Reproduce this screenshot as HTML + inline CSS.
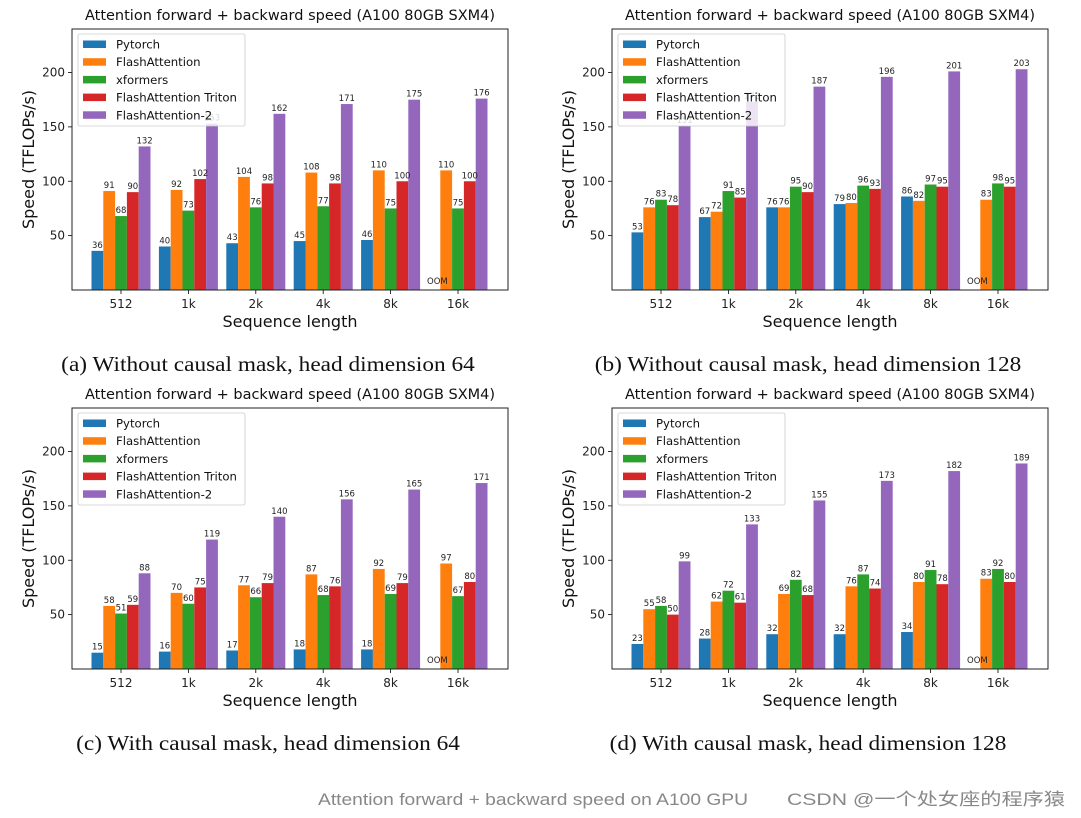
<!DOCTYPE html>
<html><head><meta charset="utf-8"><style>
body{margin:0;background:#fff;width:1081px;height:818px;overflow:hidden}
svg{display:block}
</style></head><body>
<svg id="s" width="1081" height="818" xmlns="http://www.w3.org/2000/svg"></svg>
<script>
const categories=["512","1k","2k","4k","8k","16k"];
const seriesNames=["Pytorch","FlashAttention","xformers","FlashAttention Triton","FlashAttention-2"];
const colors=["#1f77b4","#ff7f0e","#2ca02c","#d62728","#9467bd"];
const yTicks=[50,100,150,200];
const aPytorch=[36,40,43,45,46,null],aFlash=[91,92,104,108,110,110],aXf=[68,73,76,77,75,75],aTriton=[90,102,98,98,100,100],aFlash2=[132,153,162,171,175,176];
const bPytorch=[53,67,76,79,86,null],bFlash=[76,72,76,80,82,83],bXf=[83,91,95,96,97,98],bTriton=[78,85,90,93,95,95],bFlash2=[151,173,187,196,201,203];
const cPytorch=[15,16,17,18,18,null],cFlash=[58,70,77,87,92,97],cXf=[51,60,66,68,69,67],cTriton=[59,75,79,76,79,80],cFlash2=[88,119,140,156,165,171];
const dPytorch=[23,28,32,32,34,null],dFlash=[55,62,69,76,80,83],dXf=[58,72,82,87,91,92],dTriton=[50,61,68,74,78,80],dFlash2=[99,133,155,173,182,189];
const captions=["(a) Without causal mask, head dimension 64","(b) Without causal mask, head dimension 128","(c) With causal mask, head dimension 64","(d) With causal mask, head dimension 128"];
const panels=[[aPytorch,aFlash,aXf,aTriton,aFlash2],[bPytorch,bFlash,bXf,bTriton,bFlash2],[cPytorch,cFlash,cXf,cTriton,cFlash2],[dPytorch,dFlash,dXf,dTriton,dFlash2]];
const S=document.getElementById('s');const NS="http://www.w3.org/2000/svg";
function mk(t,a,p){const e=document.createElementNS(NS,t);for(const k in a)e.setAttribute(k,a[k]);(p||S).appendChild(e);return e;}
const F='"DejaVu Sans","Liberation Sans",sans-serif';
panels.forEach((data,pi)=>{
  const ox=(pi%2)*540, oy=Math.floor(pi/2)*379;
  const L=72+ox,R=508+ox,T=29+oy,B=290+oy;
  const g=mk('g',{});
  
  
  const yS=v=>B-v*(B-T)/240;
  const xS=i=>L+49+67.4*i;
  const bw=11.8;
  yTicks.forEach(t=>{
    const y=yS(t);
    const tk=mk('line',{x1:L-4,x2:L,y1:y,y2:y,stroke:'#000','stroke-width':0.8},g);
    
    
    const tl=mk('text',{x:L-7,y:y+4,'text-anchor':'end','font-size':12,'font-family':F,fill:'#222'},g);
    tl.textContent=t;
    
    
  });
  const labels=[];
  categories.forEach((c,i)=>{
    const x=xS(i);
    mk('line',{x1:x,x2:x,y1:B,y2:B+4,stroke:'#000','stroke-width':0.8},g);
    const tl=mk('text',{x:x,y:B+18,'text-anchor':'middle','font-size':12,'font-family':F,fill:'#222'},g);
    tl.textContent=c;
    
    
    data.forEach((ser,si)=>{
      const v=ser[i];const bx=x+(si-2)*bw-bw/2;
      if(v==null){labels.push([bx+bw/2+3,B-6,'OOM']);return;}
      const r=mk('rect',{x:bx,y:yS(v),width:bw,height:B-yS(v),fill:colors[si]},g);
      
      
      labels.push([bx+bw/2,yS(v)-3,v]);
    });
  });
  labels.forEach(l=>{
    const lt=mk('text',{x:l[0],y:l[1],'text-anchor':'middle','font-size':8.5,'font-family':F,fill:'#222'},g);
    lt.textContent=l[2];
    
    
  });
  const fr=mk('rect',{x:L,y:T,width:R-L,height:B-T,fill:'none',stroke:'#222','stroke-width':1},g);
  
  
  const ti=mk('text',{x:(L+R)/2,y:T-9,'text-anchor':'middle','font-size':14,'font-family':F,fill:'#111',textLength:410,lengthAdjust:'spacingAndGlyphs'},g);
  ti.textContent='Attention forward + backward speed (A100 80GB SXM4)';
  
  
  const xl=mk('text',{x:(L+R)/2,y:B+37,'text-anchor':'middle','font-size':16,'font-family':F,fill:'#111'},g);
  xl.textContent='Sequence length';
  
  
  const yl=mk('text',{x:0,y:0,transform:`translate(${ox+34},${(T+B)/2}) rotate(-90)`,'text-anchor':'middle','font-size':16,'font-family':F,fill:'#111'},g);
  yl.textContent='Speed (TFLOPs/s)';
  
  
  const lg=mk('g',{},g);
  
  
  mk('rect',{x:L+6,y:T+5,width:167,height:92,rx:2,fill:'#fff','fill-opacity':0.82,stroke:'#ccc','stroke-width':0.8},lg);
  seriesNames.forEach((n,si)=>{
    const y=T+15+si*17.7;
    const p=mk('rect',{x:L+11,y:y-3.5,width:23,height:7.5,fill:colors[si]},lg);
    
    
    const t=mk('text',{x:L+44,y:y+4.5,'font-size':11.7,'font-family':F,fill:'#111'},lg);
    t.textContent=n;
    
    
  });
  const cp=mk('text',{x:(L+R)/2-22,y:B+81,'text-anchor':'middle','font-size':21,'font-family':'"Liberation Serif",serif',fill:'#111'},g);
  cp.textContent=captions[pi];
  
  
  const w=cp.getComputedTextLength();
  cp.setAttribute('textLength',w*1.11);
  cp.setAttribute('lengthAdjust','spacingAndGlyphs');
});
const f1=mk('text',{x:318,y:805,'font-size':17,'font-family':'"Liberation Sans",sans-serif',fill:'#888',textLength:430,lengthAdjust:'spacingAndGlyphs'});
f1.textContent='Attention forward + backward speed on A100 GPU';


const f2=mk('text',{x:787,y:805,'font-size':17,'font-family':'"Liberation Sans","Noto Sans CJK SC",sans-serif',fill:'#888',textLength:278,lengthAdjust:'spacingAndGlyphs'});
f2.textContent='CSDN @一个处女座的程序猿';


</script>
</body></html>
